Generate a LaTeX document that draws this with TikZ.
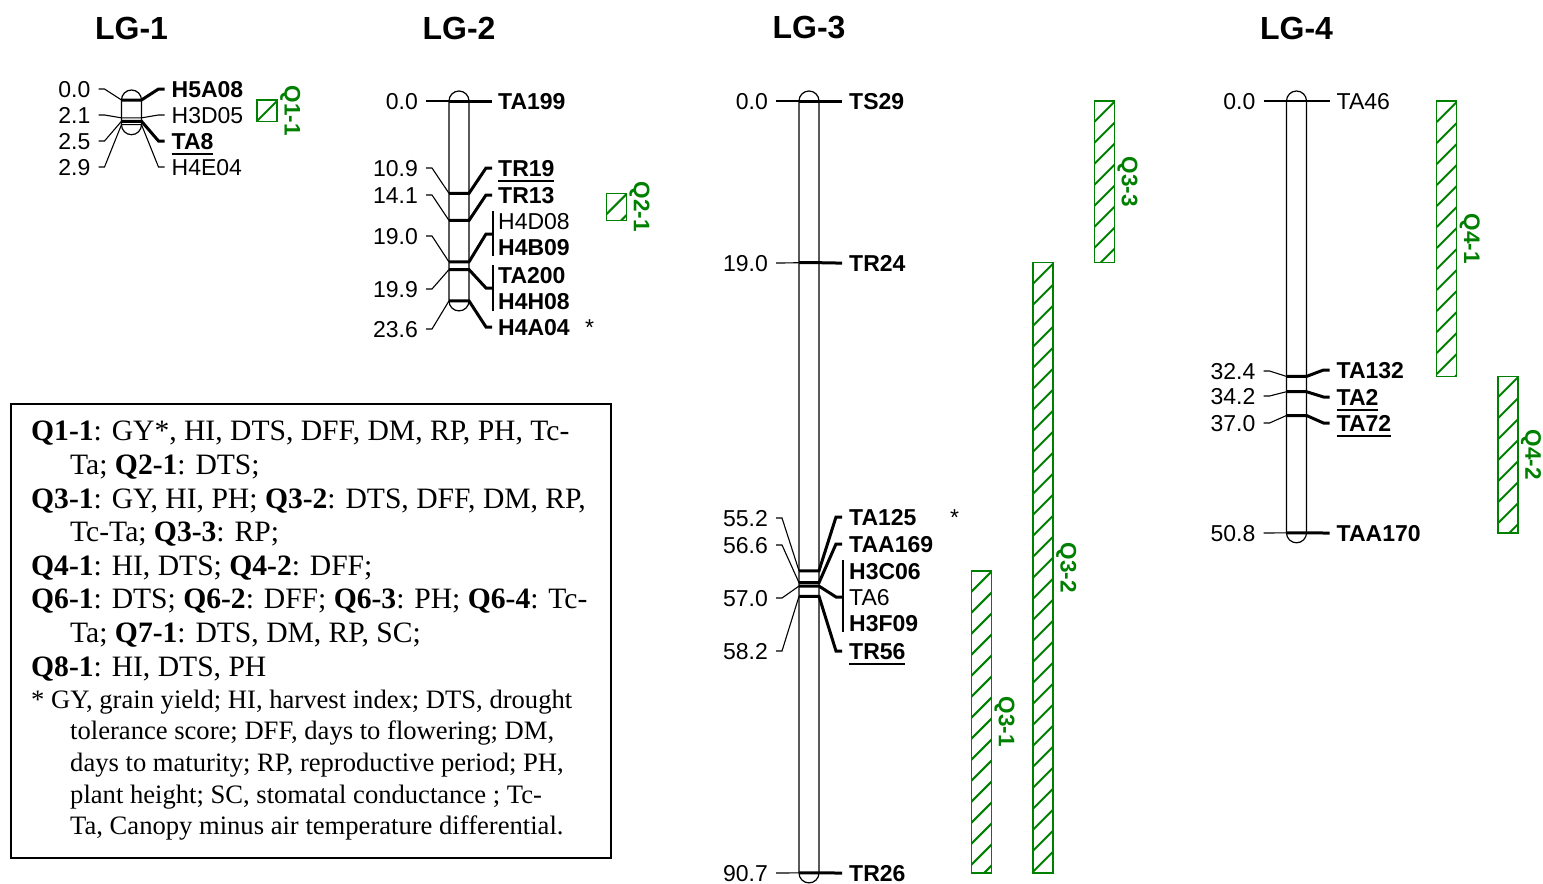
\documentclass[tikz,border=0pt]{standalone}
\usepackage{fontspec}
\setmainfont{Liberation Serif}
\setsansfont{Liberation Sans}
\usepackage{xcolor}
\usepackage{tikz}
\definecolor{qgreen}{RGB}{0,128,0}
\newcommand{\ulbar}[1]{\setbox0\hbox{#1}\rlap{\rule[-6pt]{\wd0}{2.6pt}}\box0}

\begin{document}
\begin{tikzpicture}[
      x=1pt, y=-1pt,
      chrom/.style={
        draw, line width=1.2pt,
        rounded corners=10pt,
        minimum width=20pt,
        inner sep=0pt, outer sep=0pt
      },
      lbl/.style={
        font=\fontsize{23}{26}\selectfont\sffamily,
        inner sep=0pt, text height=16.5pt, text depth=0pt
      },
      title/.style={
        font=\fontsize{32}{36}\selectfont\sffamily\bfseries,
        inner sep=0pt
      },
      thinln/.style={line width=1.1pt},
      thickln/.style={line width=3pt},
      qtl/.style={
        draw=qgreen, line width=1.5pt,
        minimum width=20pt, inner sep=0pt, outer sep=0pt,
        path picture={
          \foreach \k in {0,21,...,651}
            \draw[qgreen, line width=2pt]
              ([yshift=-\k pt]path picture bounding box.north west) -- ++(21,-21);
        }
      },
      qlbl/.style={
        font=\fontsize{22.5}{24}\selectfont\sffamily\bfseries,
        text=qgreen, rotate=-90,
        inner sep=0pt, text height=16pt, text depth=0pt
      }
    ]
    \useasboundingbox (0,0) rectangle (1543,884);

    % LG-1
    \node[title] (t1) at (131.5,28) {LG-1};
    \node[chrom, minimum height=44.7pt] (lg1) at (131.5,112.35) {};
    \foreach \cm/\ly [count=\i] in {0.0/89, 2.1/115, 2.5/141, 2.9/167} {
      \draw[thinln] (98.5,\ly) -- (104.5,\ly) -- (121.5,{100+8.5*\cm});
      \node[lbl, anchor=east] (p1-\i) at (90.5,\ly) {\cm};
    }
    \foreach \cm/\ly/\w/\txt [count=\i] in {0.0/89/thickln/\bfseries H5A08,
        2.1/115/thinln/H3D05, 2.5/141/thickln/\bfseries\ulbar{TA8},
        2.9/167/thinln/H4E04} {
      \draw[\w] (121.5,{100+8.5*\cm}) -- (141.5,{100+8.5*\cm})
        -- (158.5,\ly) -- (164.5,\ly);
      \node[lbl, anchor=west] (m1-\i) at (171.5,\ly) {\txt};
    }

    % LG-2
    \node[title] (t2) at (459,28) {LG-2};
    \node[chrom, minimum height=219.9pt] (lg2) at (459,200.95) {};
    \foreach \cm/\ly [count=\i] in {0.0/101, 10.9/168, 14.1/195, 19.0/236, 19.9/289, 23.6/329} {
      \draw[thinln] (426,\ly) -- (432,\ly) -- (449,{101+8.47*\cm});
      \node[lbl, anchor=east] (p2-\i) at (418,\ly) {\cm};
    }
    \foreach \cm/\ly/\txt [count=\i] in {0.0/101/TA199, 10.9/168/\ulbar{TR19},
        14.1/195/TR13, 23.6/327/H4A04} {
      \draw[thickln] (449,{101+8.47*\cm}) -- (469,{101+8.47*\cm})
        -- (486,\ly) -- (492,\ly);
      \node[lbl, anchor=west] (m2-\i) at (498,\ly) {\bfseries\txt};
    }
    \draw[thickln] (449,261.9) -- (469,261.9) -- (486,234) -- (493,234);
    \draw[thinln] (493,211) -- (493,256);
    \node[lbl, anchor=west] (h4d08) at (498,221) {H4D08};
    \node[lbl, anchor=west] (h4b09) at (498,247) {\bfseries H4B09};
    \draw[thickln] (449,269.6) -- (469,269.6) -- (486,288) -- (493,288);
    \draw[thinln] (493,265) -- (493,311);
    \node[lbl, anchor=west] (ta200) at (498,275) {\bfseries TA200};
    \node[lbl, anchor=west] (h4h08) at (498,301) {\bfseries H4H08};
    \node[lbl, anchor=west] (ast2) at (585,327) {*};

    % LG-3
    \node[title] (t3) at (809,28) {LG-3};
    \node[chrom, minimum height=791.9pt] (lg3) at (809,486.95) {};
    \foreach \cm/\ly [count=\i] in {0.0/101, 19.0/263, 55.2/518, 56.6/545,
        57.0/598, 58.2/651, 90.7/873} {
      \draw[thinln] (776,\ly) -- (782,\ly) -- (799,{101+8.51*\cm});
      \node[lbl, anchor=east] (p3-\i) at (768,\ly) {\cm};
    }
    \foreach \cm/\ly/\txt [count=\i] in {0.0/101/TS29, 19.0/263/TR24,
        55.2/517/TA125, 56.6/544/TAA169, 58.2/651/\ulbar{TR56}, 90.7/873/\ulbar{TR26}} {
      \draw[thickln] (799,{101+8.51*\cm}) -- (819,{101+8.51*\cm})
        -- (836,\ly) -- (842,\ly);
      \node[lbl, anchor=west] (m3-\i) at (849,\ly) {\bfseries\txt};
    }
    \draw[thickln] (799,586.1) -- (819,586.1) -- (836,597) -- (843,597);
    \draw[thinln] (843,560) -- (843,632);
    \node[lbl, anchor=west] (h3c06) at (849,571) {\bfseries H3C06};
    \node[lbl, anchor=west] (ta6) at (849,597) {TA6};
    \node[lbl, anchor=west] (h3f09) at (849,623) {\bfseries H3F09};
    \node[lbl, anchor=west] (ast3) at (950,517) {*};

    % LG-4
    \node[title] (t4) at (1296.5,28) {LG-4};
    \node[chrom, minimum height=451.8pt] (lg4) at (1296.5,316.9) {};
    \foreach \cm/\ly [count=\i] in {0.0/101, 32.4/371, 34.2/396, 37.0/423, 50.8/533} {
      \draw[thinln] (1263.5,\ly) -- (1269.5,\ly) -- (1286.5,{101+8.5*\cm});
      \node[lbl, anchor=east] (p4-\i) at (1255.5,\ly) {\cm};
    }
    \foreach \cm/\ly/\w/\txt [count=\i] in {0.0/101/thinln/TA46,
        32.4/370/thickln/\bfseries TA132, 34.2/397/thickln/\bfseries\ulbar{TA2},
        37.0/423/thickln/\bfseries\ulbar{TA72}, 50.8/533/thickln/\bfseries TAA170} {
      \draw[\w] (1286.5,{101+8.5*\cm}) -- (1306.5,{101+8.5*\cm})
        -- (1323.5,\ly) -- (1329.5,\ly);
      \node[lbl, anchor=west] (m4-\i) at (1336.5,\ly) {\txt};
    }

    % QTL bars
    \node[qtl, minimum height=21.3pt] (q11) at (267,110.7) {};
    \node[qtl, minimum height=27.1pt] (q21) at (616.3,206.9) {};
    \node[qtl, minimum height=161.7pt] (q33) at (1104.3,181.85) {};
    \node[qtl, minimum height=610.2pt] (q32) at (1043,567.8) {};
    \node[qtl, minimum height=302.1pt] (q31) at (981.3,721.85) {};
    \node[qtl, minimum height=275.4pt] (q41) at (1446.7,238.7) {};
    \node[qtl, minimum height=156.4pt] (q42) at (1507.8,454.6) {};
    \foreach \q/\txt in {q11/Q1-1, q21/Q2-1, q33/Q3-3, q32/Q3-2, q31/Q3-1, q41/Q4-1, q42/Q4-2}
      \node[qlbl] (\q-lbl) at ([xshift=15.5pt]\q.east) {\txt};

    % legend
    \node[draw, line width=2pt, minimum width=600pt, minimum height=454pt,
      inner sep=0pt] (legend) at (311,631) {};
    \node[anchor=north west, align=left, inner sep=0pt,
      font=\fontsize{29.6}{33.6}\selectfont] (legtxt)
      at ([xshift=21pt, yshift=-18pt]legend.north west) {%
      \textbf{Q1-1}: GY*, HI, DTS, DFF, DM, RP, PH, Tc-\\
      \hspace*{39pt}Ta; \textbf{Q2-1}: DTS;\\
      \textbf{Q3-1}: GY, HI, PH; \textbf{Q3-2}: DTS, DFF, DM, RP,\\
      \hspace*{39pt}Tc-Ta; \textbf{Q3-3}: RP;\\
      \textbf{Q4-1}: HI, DTS; \textbf{Q4-2}: DFF;\\
      \textbf{Q6-1}: DTS; \textbf{Q6-2}: DFF; \textbf{Q6-3}: PH; \textbf{Q6-4}: Tc-\\
      \hspace*{39pt}Ta; \textbf{Q7-1}: DTS, DM, RP, SC;\\
      \textbf{Q8-1}: HI, DTS, PH};
    \node[anchor=north west, align=left, inner sep=0pt,
      font=\fontsize{26.6}{31.7}\selectfont] (legnote)
      at ([xshift=21pt, yshift=-286.5pt]legend.north west) {%
      * GY, grain yield; HI, harvest index; DTS, drought\\
      \hspace*{39pt}tolerance score; DFF, days to flowering; DM,\\
      \hspace*{39pt}days to maturity; RP, reproductive period; PH,\\
      \hspace*{39pt}plant height; SC, stomatal conductance ; Tc-\\
      \hspace*{39pt}Ta, Canopy minus air temperature differential.};

\end{tikzpicture}
\end{document}
